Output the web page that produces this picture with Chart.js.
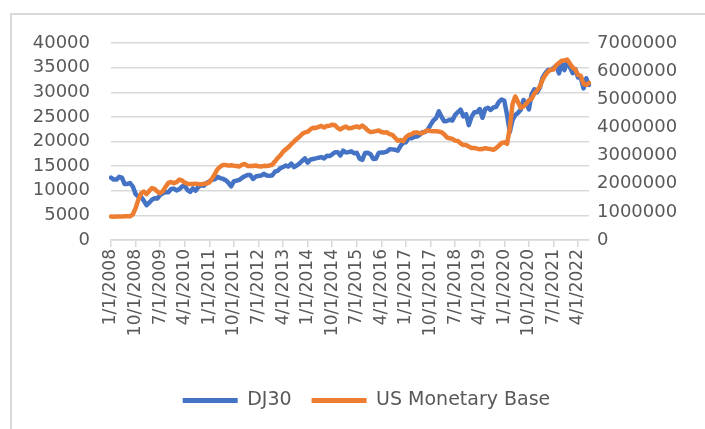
<!DOCTYPE html>
<html>
<head>
<meta charset="utf-8">
<script src="https://cdn.jsdelivr.net/npm/chart.js@4.4.1/dist/chart.umd.min.js"></script>
<style>
  html, body { margin: 0; padding: 0; background: #fff; }
  #box { position: absolute; left: 10px; top: 13px; width: 720px; height: 440px; border-left: 2px solid #d9d9d9; border-top: 2px solid #d9d9d9; box-sizing: border-box; }
  #line_chart { position: absolute; left: 0; top: 0; }
</style>
</head>
<body>
<div id="box"></div>
<canvas id="line_chart" width="705" height="429"></canvas>
<script>
// monthly, Jan 2008 .. Aug 2022
const months = [];
for (let y = 2008; y <= 2022; y++) {
    for (let m = 1; m <= 12; m++) {
        if (y == 2022 && m > 8) break;
        months.push(m + '/1/' + y);
    }
}

const dj30 = [
    12650, 12266, 12263, 12820, 12638, 11350, 11378, 11544, 10851, 9325, 8829, 8776,      // 2008
    8001, 7063, 7609, 8168, 8500, 8447, 9172, 9496, 9712, 9713, 10345, 10428,            // 2009
    10067, 10325, 10857, 11009, 10137, 9774, 10466, 10015, 10788, 11118, 11006, 11578,   // 2010
    11892, 12226, 12320, 12811, 12570, 12414, 12143, 11614, 10913, 11955, 12046, 12218,  // 2011
    12633, 12952, 13212, 13214, 12393, 12880, 13009, 13091, 13437, 13096, 13026, 13104,  // 2012
    13861, 14054, 14579, 14840, 15116, 14910, 15500, 14810, 15130, 15546, 16086, 16577,  // 2013
    15699, 16322, 16458, 16581, 16717, 16827, 16563, 17098, 17043, 17391, 17828, 17823,  // 2014
    17165, 18133, 17776, 17841, 18011, 17620, 17690, 16528, 16285, 17664, 17720, 17425,  // 2015
    16466, 16517, 17685, 17774, 17787, 17930, 18432, 18401, 18308, 18142, 19124, 19763,  // 2016
    19864, 20812, 20663, 20941, 21009, 21350, 21891, 21948, 22405, 23377, 24272, 24719,  // 2017
    26149, 25029, 24103, 24163, 24416, 24271, 25415, 25965, 26458, 25116, 25538, 23327,  // 2018
    24999, 25916, 25929, 26593, 24815, 26600, 26864, 26403, 26917, 27046, 28051, 28538,  // 2019
    28256, 25409, 21917, 24346, 25383, 25813, 26428, 28430, 27782, 26502, 29639, 30606,  // 2020
    29983, 30932, 32982, 33875, 34529, 34503, 34935, 35361, 33844, 35820, 34484, 36338,  // 2021
    35132, 33893, 34678, 32977, 32990, 30775, 32845, 31510                               // 2022
];

const monetaryBase = [
    832000, 828000, 833000, 835000, 837000, 840000, 845000, 843000, 907000, 1136000, 1427000, 1655000,      // 2008
    1718000, 1633000, 1744000, 1846000, 1807000, 1719000, 1664000, 1733000, 1894000, 2029000, 2061000, 2019000, // 2009
    2054000, 2145000, 2116000, 2037000, 2002000, 1993000, 1994000, 2003000, 1985000, 1977000, 1998000, 2011000, // 2010
    2049000, 2186000, 2340000, 2514000, 2608000, 2669000, 2663000, 2643000, 2657000, 2642000, 2631000, 2612000, // 2011
    2679000, 2699000, 2632000, 2629000, 2627000, 2648000, 2618000, 2613000, 2636000, 2628000, 2647000, 2672000, // 2012
    2787000, 2911000, 3005000, 3135000, 3224000, 3300000, 3401000, 3502000, 3587000, 3669000, 3768000, 3824000, // 2013
    3848000, 3930000, 3991000, 3983000, 4020000, 4050000, 4000000, 4050000, 4060000, 4097000, 4080000, 3977000, // 2014
    3928000, 3994000, 4030000, 3970000, 3980000, 4008000, 4036000, 3995000, 4070000, 3990000, 3896000, 3836000, // 2015
    3850000, 3869000, 3891000, 3837000, 3822000, 3825000, 3763000, 3735000, 3630000, 3524000, 3552000, 3511000, // 2016
    3660000, 3730000, 3752000, 3823000, 3823000, 3797000, 3796000, 3862000, 3892000, 3871000, 3867000, 3862000, // 2017
    3852000, 3828000, 3754000, 3643000, 3617000, 3594000, 3531000, 3520000, 3437000, 3374000, 3373000, 3319000, // 2018
    3268000, 3273000, 3249000, 3222000, 3231000, 3263000, 3243000, 3233000, 3203000, 3267000, 3350000, 3445000, // 2019
    3470000, 3418000, 3971000, 4822000, 5100000, 4900000, 4700000, 4746000, 4837000, 4966000, 5023000, 5206000, // 2020
    5310000, 5453000, 5688000, 5859000, 5982000, 6052000, 6060000, 6210000, 6289000, 6368000, 6382000, 6413000, // 2021
    6270000, 6130000, 6052000, 5864000, 5832000, 5548000, 5510000, 5580000                                      // 2022
];

const leftTicks = { min: 0, max: 40000, step: 5000 };
const rightTicks = { min: 0, max: 7000000, step: 1000000 };

const textColor = '#595959';
const gridColor = '#d9d9d9';
const tickFont = { family: 'DejaVu Sans', size: 17 };
const axisFont = { family: 'DejaVu Sans', size: 18 };

const ctx = document.getElementById('line_chart').getContext('2d');
const myChart = new Chart(ctx, {
    type: 'line',
    data: {
        labels: months,
        datasets: [{
                label: 'DJ30',
                data: dj30,
                yAxisID: 'y',
                borderColor: '#4472C4',
                backgroundColor: '#4472C4',
                borderWidth: 4.5,
                pointRadius: 0,
                order: 1,
            },
            {
                label: 'US Monetary Base',
                data: monetaryBase,
                yAxisID: 'y1',
                borderColor: '#ED7D31',
                backgroundColor: '#ED7D31',
                borderWidth: 4.5,
                pointRadius: 0,
                order: 0,
            },
        ]
    },
    options: {
        responsive: false,
        animation: false,
        layout: { padding: { left: 28, right: 0, top: 43, bottom: 9 } },
        elements: { line: { tension: 0, borderJoinStyle: 'round', borderCapStyle: 'round' } },
        plugins: {
            tooltip: { enabled: false },
            legend: {
                position: 'bottom',
                labels: {
                    color: textColor,
                    font: { family: 'DejaVu Sans', size: 19 },
                    boxWidth: 55,
                    boxHeight: 5,
                    padding: 20,
                    generateLabels(chart) {
                        const items = Chart.defaults.plugins.legend.labels.generateLabels(chart);
                        items.forEach(i => { i.lineWidth = 0; });
                        return items.sort((a, b) => a.datasetIndex - b.datasetIndex);
                    }
                }
            }
        },
        scales: {
            x: {
                ticks: {
                    autoSkip: false,
                    maxRotation: 90,
                    minRotation: 90,
                    padding: 2,
                    color: textColor,
                    font: tickFont,
                    callback: function(v, i) { return i % 9 === 0 ? this.getLabelForValue(v) : ''; }
                },
                grid: {
                    drawOnChartArea: false,
                    tickLength: 7,
                    lineWidth: 1.5,
                    color: c => (c.index % 9 === 0 ? gridColor : 'rgba(0,0,0,0)')
                },
                border: { color: gridColor, width: 1.5 },
                afterFit: s => { s.height = 131; }
            },
            y: {
                position: 'left',
                min: leftTicks.min,
                max: leftTicks.max,
                ticks: { stepSize: leftTicks.step, padding: 21, color: textColor, font: axisFont, callback: v => String(v) },
                grid: { color: gridColor, lineWidth: 1.5, drawTicks: false },
                border: { display: false },
                afterFit: s => { s.width = 83; }
            },
            y1: {
                position: 'right',
                min: rightTicks.min,
                max: rightTicks.max,
                ticks: { stepSize: rightTicks.step, padding: 8, color: textColor, font: axisFont, callback: v => String(v) },
                grid: { drawOnChartArea: false, drawTicks: false },
                border: { display: false },
                afterFit: s => { s.width = 116; }
            }
        }
    }
});
</script>
</body>
</html>
